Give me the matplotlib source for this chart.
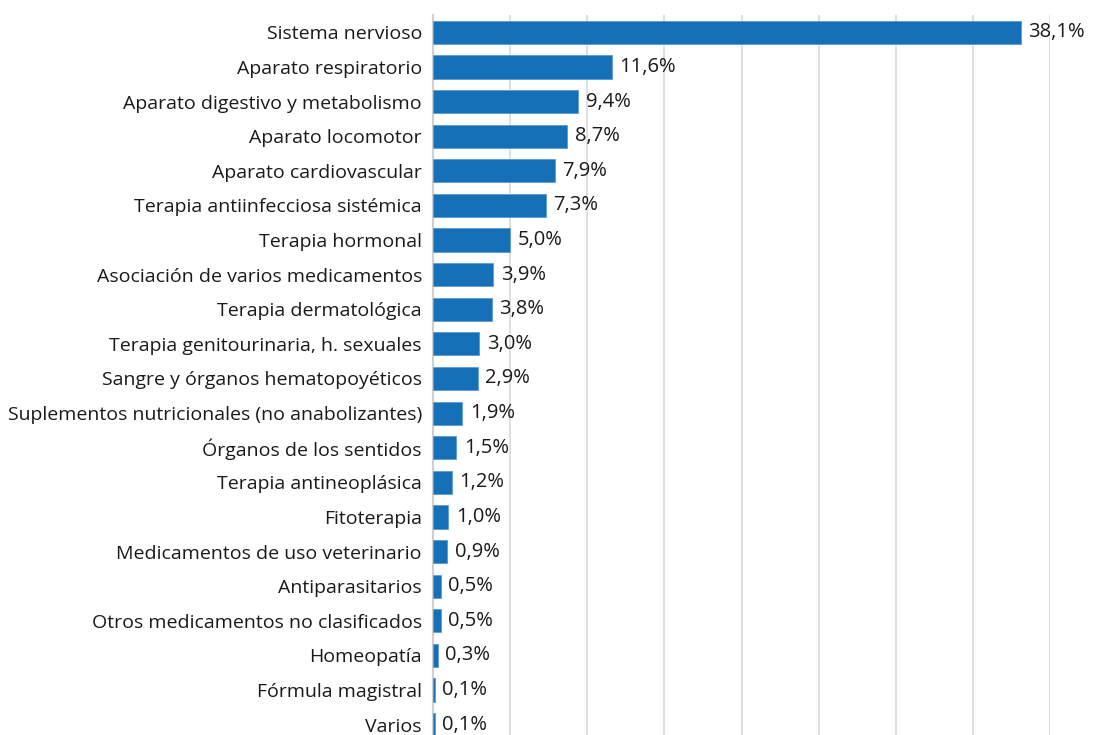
import numpy as np
import matplotlib.pyplot as plt

categorias = [
    "Sistema nervioso",
    "Aparato respiratorio",
    "Aparato digestivo y metabolismo",
    "Aparato locomotor",
    "Aparato cardiovascular",
    "Terapia antiinfecciosa sistémica",
    "Terapia hormonal",
    "Asociación de varios medicamentos",
    "Terapia dermatológica",
    "Terapia genitourinaria, h. sexuales",
    "Sangre y órganos hematopoyéticos",
    "Suplementos nutricionales (no anabolizantes)",
    "Órganos de los sentidos",
    "Terapia antineoplásica",
    "Fitoterapia",
    "Medicamentos de uso veterinario",
    "Antiparasitarios",
    "Otros medicamentos no clasificados",
    "Homeopatía",
    "Fórmula magistral",
    "Varios",
]
valores = [38.1, 11.6, 9.4, 8.7, 7.9, 7.3, 5.0, 3.9, 3.8, 3.0, 2.9,
           1.9, 1.5, 1.2, 1.0, 0.9, 0.5, 0.5, 0.3, 0.1, 0.1]

plt.rcParams['font.family'] = ['Open Sans', 'DejaVu Sans']

fig = plt.figure(figsize=(11.15, 7.35), dpi=100)
ax = fig.add_axes([433 / 1115, 1 - 742 / 735, (1050 - 433) / 1115, (742 - 15) / 735])

y = np.arange(len(categorias))
ax.barh(y, valores, height=0.67, color='#1570b7', edgecolor='#5b9bd5', linewidth=0.6, zorder=3)

for yi, v in zip(y, valores):
    ax.text(v + 0.5, yi, f"{v:.1f}%".replace('.', ','), va='center', ha='left',
            fontsize=14.5, color='#1a1a1a', zorder=4)

ax.set_xlim(0, 40)
ax.set_ylim(len(categorias) - 0.5, -0.5)
ax.set_xticks(np.arange(0, 41, 5))
ax.set_xticklabels([])
ax.set_yticks(y)
ax.set_yticklabels(categorias, fontsize=14, color='#1a1a1a')
ax.tick_params(axis='both', length=0)
ax.tick_params(axis='y', pad=8)
ax.grid(axis='x', color='#d9d9d9', linewidth=1.2, zorder=0)
for s in ['top', 'right', 'bottom']:
    ax.spines[s].set_visible(False)
ax.spines['left'].set_color('#d0d0d0')
ax.spines['left'].set_linewidth(1.5)

fig.savefig('out.png', dpi=100)
